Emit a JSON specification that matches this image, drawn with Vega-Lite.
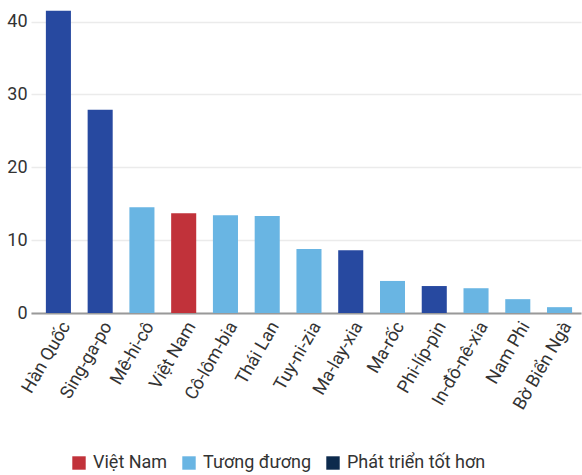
{
  "$schema": "https://vega.github.io/schema/vega-lite/v6.json",
  "width": 550,
  "height": 306,
  "padding": {"top": 7, "left": 6, "right": 2, "bottom": 0},
  "config": {
    "font": "Roboto",
    "view": {"stroke": null},
    "axis": {"labelFont": "Roboto", "labelColor": "#333333", "titleFont": "Roboto"}
  },
  "data": {
    "values": [
      {"country": "Hàn Quốc", "value": 41.5, "group": "Phát triển tốt hơn"},
      {"country": "Sing-ga-po", "value": 27.9, "group": "Phát triển tốt hơn"},
      {"country": "Mê-hi-cô", "value": 14.5, "group": "Tương đương"},
      {"country": "Việt Nam", "value": 13.7, "group": "Việt Nam"},
      {"country": "Cô-lôm-bia", "value": 13.4, "group": "Tương đương"},
      {"country": "Thái Lan", "value": 13.3, "group": "Tương đương"},
      {"country": "Tuy-ni-zia", "value": 8.8, "group": "Tương đương"},
      {"country": "Ma-lay-xia", "value": 8.6, "group": "Phát triển tốt hơn"},
      {"country": "Ma-rốc", "value": 4.4, "group": "Tương đương"},
      {"country": "Phi-líp-pin", "value": 3.7, "group": "Phát triển tốt hơn"},
      {"country": "In-đô-nê-xia", "value": 3.4, "group": "Tương đương"},
      {"country": "Nam Phi", "value": 1.9, "group": "Tương đương"},
      {"country": "Bờ Biển Ngà", "value": 0.8, "group": "Tương đương"}
    ]
  },
  "mark": {"type": "bar"},
  "encoding": {
    "x": {
      "field": "country",
      "type": "nominal",
      "sort": null,
      "title": null,
      "scale": {"paddingInner": 0.4, "paddingOuter": 0.285, "align": 0.625},
      "axis": {
        "labelAngle": -60,
        "labelFontSize": 18,
        "labelPadding": 10,
        "labelOffset": 8,
        "ticks": false,
        "domainColor": "#999999",
        "domainWidth": 2
      }
    },
    "y": {
      "field": "value",
      "type": "quantitative",
      "title": null,
      "scale": {"domain": [0, 42], "nice": false},
      "axis": {
        "values": [0, 10, 20, 30, 40],
        "labelFontSize": 18,
        "labelPadding": 4,
        "ticks": false,
        "domain": false,
        "gridColor": "#ebebeb",
        "gridWidth": 1.5
      }
    },
    "color": {
      "field": "group",
      "type": "nominal",
      "scale": {
        "domain": ["Việt Nam", "Tương đương", "Phát triển tốt hơn", "Phát triển tốt hơn "],
        "range": ["#c1323a", "#69b5e3", "#2749a0", "#0d2a4d"]
      },
      "legend": {
        "title": null,
        "values": ["Việt Nam", "Tương đương", "Phát triển tốt hơn "],
        "orient": "none",
        "legendX": 39,
        "legendY": 447,
        "direction": "horizontal",
        "symbolType": "square",
        "symbolSize": 180,
        "symbolOpacity": 1,
        "symbolStrokeWidth": 0,
        "labelFont": "Roboto",
        "labelFontSize": 18,
        "labelColor": "#333333",
        "columnPadding": 12,
        "labelOffset": 5,
        "labelExpr": "datum.label == 'Tương đương' ? 'Tương đương      ' : datum.label"
      }
    }
  }
}
